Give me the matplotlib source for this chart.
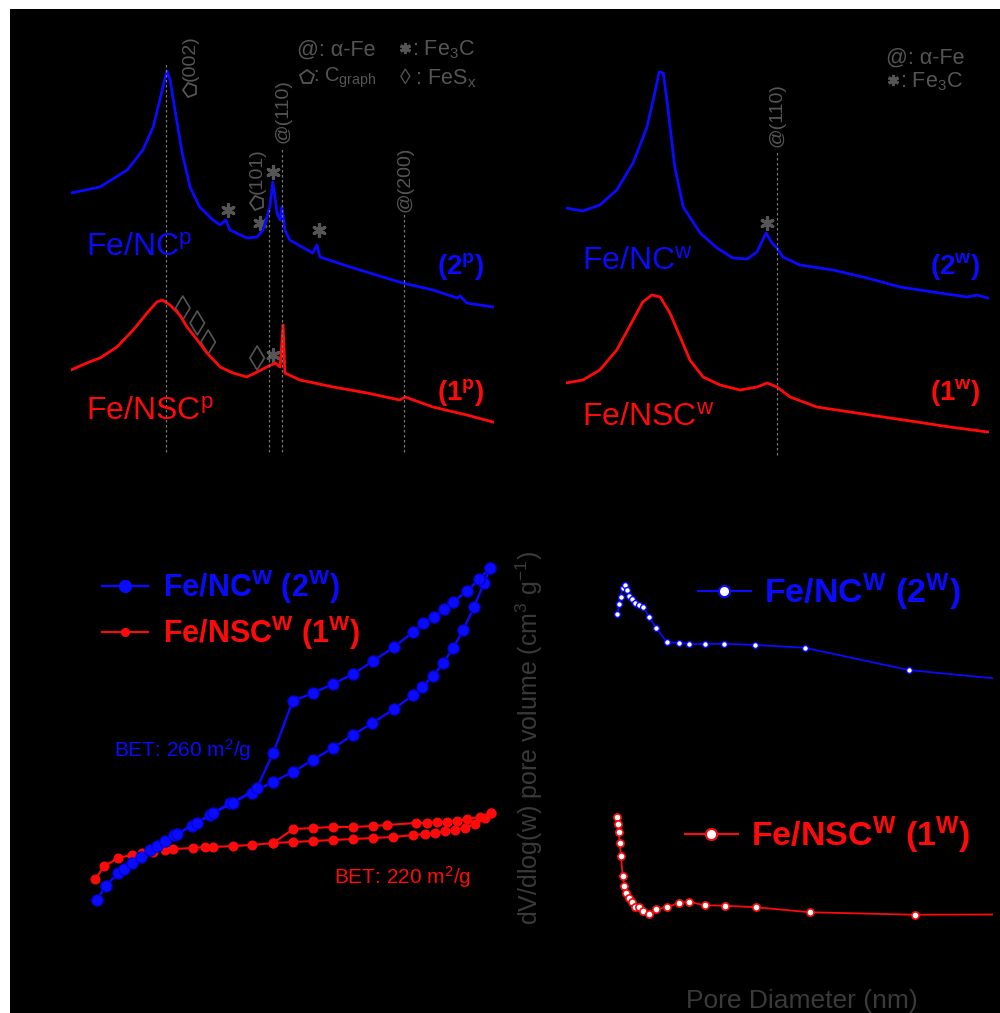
import numpy as np
import matplotlib
matplotlib.use("Agg")
import matplotlib.pyplot as plt
from matplotlib.markers import MarkerStyle
from matplotlib.transforms import Affine2D
from matplotlib.lines import Line2D
from matplotlib.patches import Rectangle

plt.rcParams['font.family'] = ['Liberation Sans', 'DejaVu Sans']
plt.rcParams['mathtext.fontset'] = 'custom'
plt.rcParams['mathtext.rm'] = 'Liberation Sans'
plt.rcParams['mathtext.it'] = 'Liberation Sans:italic'
plt.rcParams['mathtext.bf'] = 'Liberation Sans:bold'
plt.rcParams['mathtext.default'] = 'regular'

# ---------------- XRD data (2theta in deg, intensity a.u.) ----------------
xrd_nc_p_2t = [10.0, 14.8, 19.3, 21.9, 23.6, 24.7, 25.6, 25.9, 26.4, 27.2, 28.4, 29.7, 31.3, 33.5,
               34.7, 35.6, 36.3, 39.1, 40.8, 41.8, 42.9, 43.4, 44.1, 44.6, 44.9, 45.4, 46.2, 50.0,
               50.7, 51.2, 56.2, 61.6, 64.9, 69.9, 73.9, 74.4, 75.5, 79.8]
xrd_nc_p_I = [5540, 5660, 6000, 6400, 6860, 7400, 7860, 7980, 7800, 7200, 6340, 5660, 5260, 5000,
              4900, 5000, 4800, 4640, 4660, 4800, 5260, 5760, 5140, 5000, 5260, 4800, 4600, 4340,
              4500, 4260, 4060, 3860, 3740, 3600, 3440, 3480, 3340, 3260]
xrd_nsc_p_2t = [10.0, 12.6, 14.8, 17.6, 20.3, 22.6, 24.2, 25.1, 26.4, 28.0, 29.2, 30.9, 32.5, 34.7,
                36.8, 39.1, 40.8, 42.4, 43.8, 44.6, 45.1, 45.4, 47.9, 53.4, 59.0, 64.4, 65.3, 69.9,
                75.5, 79.8]
xrd_nsc_p_I = [2000, 2140, 2240, 2460, 2800, 3140, 3360, 3400, 3300, 3100, 2860, 2600, 2340, 2060,
               1940, 1860, 1960, 2060, 2140, 2060, 2900, 1940, 1800, 1660, 1540, 1400, 1460, 1260,
               1100, 960]
xrd_nc_w_2t = [10.0, 12.8, 15.6, 18.4, 21.1, 23.4, 24.7, 25.4, 26.1, 26.9, 28.0, 29.4, 32.2, 35.0,
               37.6, 40.0, 41.6, 43.1, 44.1, 44.9, 45.9, 48.7, 54.2, 59.8, 65.3, 70.7, 76.4, 78.0, 79.8]
xrd_nc_w_I = [5240, 5180, 5300, 5600, 6140, 6860, 7540, 7960, 7940, 7200, 6060, 5260, 4740, 4440,
              4240, 4220, 4360, 4740, 4540, 4440, 4260, 4100, 4000, 3840, 3660, 3560, 3460, 3500, 3440]
xrd_nsc_w_2t = [10.0, 12.8, 15.6, 18.4, 21.1, 22.7, 24.2, 25.6, 27.2, 28.9, 30.5, 32.7, 35.5, 38.8,
                41.6, 43.3, 44.9, 47.1, 51.5, 57.0, 62.5, 68.1, 73.5, 79.8]
xrd_nsc_w_I = [1740, 1800, 2000, 2400, 3000, 3360, 3500, 3460, 3140, 2660, 2200, 1860, 1700, 1600,
               1660, 1740, 1660, 1460, 1260, 1160, 1060, 960, 860, 760]

# reference reflections (2theta, top of guide line)
ref_p_2t = [25.7, 42.8, 44.9, 65.1]
ref_p_top = [8160, 5240, 6460, 5140]
ref_w_2t = [44.9]
ref_w_top = [6360]
# Fe3C marks
fe3c_p_2t = [36.0, 41.3, 43.4, 51.0, 43.4]
fe3c_p_I = [5200, 4940, 5960, 4800, 2300]
fe3c_w_2t = [43.3]
fe3c_w_I = [4940]
# FeSx marks
fesx_2t = [28.5, 30.9, 32.7, 40.8]
fesx_I = [3240, 2940, 2560, 2240]

# ---------------- N2 isotherms (P/P0, V cm3/g) ----------------
nc_ads_p = [0.007, 0.029, 0.061, 0.076, 0.094, 0.117, 0.140, 0.157, 0.178, 0.200, 0.246, 0.290,
            0.340, 0.394, 0.447, 0.497, 0.547, 0.597, 0.647, 0.696, 0.750, 0.798, 0.819, 0.848,
            0.873, 0.898, 0.923, 0.950, 0.975, 0.990]
nc_ads_v = [20, 34, 47, 51, 57, 63, 70, 74, 79, 85, 94, 105, 117, 127, 138, 148, 160, 172, 185,
            197, 211, 225, 233, 244, 257, 272, 290, 313, 337, 352]
nc_des_p = [0.990, 0.963, 0.933, 0.898, 0.875, 0.850, 0.823, 0.798, 0.750, 0.698, 0.648, 0.597,
            0.548, 0.497, 0.448, 0.407, 0.348, 0.298, 0.257, 0.207]
nc_des_v = [352, 341, 329, 318, 311, 303, 297, 288, 273, 259, 246, 236, 227, 219, 167, 132, 117,
            107, 97, 86]
nsc_ads_p = [0.003, 0.026, 0.061, 0.094, 0.119, 0.148, 0.178, 0.198, 0.248, 0.278, 0.298, 0.348,
             0.394, 0.448, 0.498, 0.548, 0.598, 0.648, 0.698, 0.748, 0.798, 0.828, 0.853, 0.878,
             0.903, 0.928, 0.953, 0.978, 0.992]
nsc_ads_v = [41, 54, 62, 65, 67, 68, 70, 71, 72, 73, 73, 74, 75, 77, 78, 79, 80, 81, 82, 83, 85,
             86, 87, 89, 90, 92, 96, 102, 107]
nsc_des_p = [0.992, 0.965, 0.933, 0.907, 0.882, 0.857, 0.832, 0.805, 0.732, 0.698, 0.648, 0.598,
             0.548, 0.498, 0.448]
nsc_des_v = [107, 103, 101, 99, 98, 98, 97, 97, 95, 94, 93, 93, 92, 91, 77]

# ---------------- Pore size distributions (nm, dV/dlog(w)) ----------------
psd_nc_d = [0.51, 0.64, 0.77, 0.93, 1.12, 1.28, 1.47, 1.71, 1.92, 2.27, 2.59, 3.04, 3.60, 4.45,
            5.44, 6.24, 7.49, 9.06, 11.5, 15.5, 23.8, 36.0]
psd_nc_v = [1.384, 1.424, 1.451, 1.489, 1.500, 1.480, 1.456, 1.443, 1.429, 1.420, 1.413, 1.373,
            1.329, 1.273, 1.267, 1.264, 1.264, 1.265, 1.260, 1.249, 1.160, 1.100]
psd_nsc_d = [0.51, 0.56, 0.61, 0.69, 0.80, 0.93, 1.07, 1.23, 1.41, 1.65, 1.89, 2.27, 2.59, 3.04,
             3.60, 4.51, 5.44, 6.24, 7.49, 9.14, 11.6, 15.9, 24.3, 36.0]
psd_nsc_v = [0.573, 0.544, 0.513, 0.467, 0.416, 0.336, 0.296, 0.269, 0.249, 0.232, 0.213, 0.211,
             0.197, 0.184, 0.203, 0.211, 0.229, 0.233, 0.219, 0.217, 0.211, 0.191, 0.181, 0.183]

BLUE = '#0a0aff'
RED = '#ff0a0a'
GREY = '#555555'

W, H = 1000, 1013
fig = plt.figure(figsize=(W / 100, H / 100), dpi=100, facecolor='white')
fig.add_artist(Rectangle((10 / W, 0), 1 - 10 / W, 1 - 9 / H, transform=fig.transFigure,
                         facecolor='black', edgecolor='none', zorder=-10))


def px_axes(x0, y0, x1, y1):
    ax = fig.add_axes([x0 / W, 1 - y1 / H, (x1 - x0) / W, (y1 - y0) / H])
    ax.set_facecolor('none')
    ax.axis('off')
    return ax


def fp(x, y):
    return (x / W, 1 - y / H)


# ---------------- top-left XRD ----------------
ax1 = px_axes(71, 30, 494, 460)
ax1.set_xlim(10, 80)
ax1.set_ylim(200, 8800)
ax1.plot(xrd_nc_p_2t, xrd_nc_p_I, color=BLUE, lw=2)
ax1.plot(xrd_nsc_p_2t, xrd_nsc_p_I, color=RED, lw=2)
ax1.vlines(ref_p_2t, 360, ref_p_top, colors='#777777', linestyles=(0, (2, 2)), lw=0.9)
ast = MarkerStyle((6, 2, 0))
ax1.scatter(fe3c_p_2t, fe3c_p_I, marker=ast, s=75, color=GREY, linewidths=2.3)
ax1.scatter(fesx_2t, fesx_I, marker='d', s=150, facecolors='none', edgecolors=GREY, linewidths=1.2)
pent_rot = MarkerStyle('p', fillstyle='none', transform=Affine2D().rotate_deg(90))
for x, yt, yp, lab in [(29.7, 7780, 7590, '(002)'), (40.8, 5510, 5330, '(101)')]:
    ax1.text(x, yt, lab, rotation=90, ha='center', va='bottom', color=GREY, fontsize=14)
    ax1.plot([x], [yp], marker=pent_rot, ms=10, mec=GREY, mew=1.3, ls='none')
ax1.text(45.1, 6540, '@(110)', rotation=90, ha='center', va='bottom', color=GREY, fontsize=14)
ax1.text(65.3, 5160, '@(200)', rotation=90, ha='center', va='bottom', color=GREY, fontsize=14)

# legend of phases (top-left)
fig.text(*fp(297, 50), '@: α-Fe', color=GREY, fontsize=15.5, va='center')
fig.add_artist(Line2D([405 / W], [1 - 48 / H], transform=fig.transFigure, marker=ast, ms=8,
                      mew=2.2, color=GREY, ls='none'))
fig.text(*fp(412, 50), ': Fe$_3$C', color=GREY, fontsize=15.5, va='center')
fig.add_artist(Line2D([307 / W], [1 - 77 / H], transform=fig.transFigure, marker='p', ms=10,
                      mfc='none', mec=GREY, mew=1.3, ls='none'))
fig.text(*fp(313, 78), ': C$_{graph}$', color=GREY, fontsize=14.5, va='center')
fig.text(*fp(399, 78), '◊ : FeS$_x$', color=GREY, fontsize=15.5, va='center')

fig.text(*fp(86, 248), 'Fe/NC$^p$', color=BLUE, fontsize=23, va='center')
fig.text(*fp(86, 412), 'Fe/NSC$^p$', color=RED, fontsize=23, va='center')
fig.text(*fp(484, 267), '(2$^p$)', color=BLUE, fontsize=20, fontweight='bold', va='center', ha='right')
fig.text(*fp(484, 392), '(1$^p$)', color=RED, fontsize=20, fontweight='bold', va='center', ha='right')

# ---------------- top-right XRD ----------------
ax2 = px_axes(566, 30, 989, 460)
ax2.set_xlim(10, 80)
ax2.set_ylim(200, 8800)
ax2.plot(xrd_nc_w_2t, xrd_nc_w_I, color=BLUE, lw=2)
ax2.plot(xrd_nsc_w_2t, xrd_nsc_w_I, color=RED, lw=2)
ax2.vlines(ref_w_2t, 300, ref_w_top, colors='#777777', linestyles=(0, (2, 2)), lw=0.9)
ax2.scatter(fe3c_w_2t, fe3c_w_I, marker=ast, s=75, color=GREY, linewidths=2.3)
ax2.text(44.9, 6460, '@(110)', rotation=90, ha='center', va='bottom', color=GREY, fontsize=14)

fig.text(*fp(886, 58), '@: α-Fe', color=GREY, fontsize=15.5, va='center')
fig.add_artist(Line2D([893 / W], [1 - 80 / H], transform=fig.transFigure, marker=ast, ms=8,
                      mew=2.2, color=GREY, ls='none'))
fig.text(*fp(900, 82), ': Fe$_3$C', color=GREY, fontsize=15.5, va='center')

fig.text(*fp(582, 262), 'Fe/NC$^w$', color=BLUE, fontsize=23, va='center')
fig.text(*fp(582, 418), 'Fe/NSC$^w$', color=RED, fontsize=23, va='center')
fig.text(*fp(981, 267), '(2$^w$)', color=BLUE, fontsize=20, fontweight='bold', va='center', ha='right')
fig.text(*fp(981, 392), '(1$^w$)', color=RED, fontsize=20, fontweight='bold', va='center', ha='right')

# ---------------- bottom-left isotherms ----------------
ax3 = px_axes(94, 540, 494, 900)
ax3.set_xlim(0, 1)
ax3.set_ylim(20, 380)
ax3.plot(nsc_ads_p, nsc_ads_v, color=RED, lw=1.5, marker='o', ms=6.2, mec=RED, zorder=2, clip_on=False)
ax3.plot(nsc_des_p, nsc_des_v, color=RED, lw=1.5, marker='o', ms=6.2, mec=RED, zorder=2, clip_on=False)
ax3.plot(nc_ads_p, nc_ads_v, color=BLUE, lw=1.7, marker='o', ms=8.2, mec='#0000c8', mew=0.8, zorder=3,
         clip_on=False)
ax3.plot(nc_des_p, nc_des_v, color=BLUE, lw=1.7, marker='o', ms=8.2, mec='#0000c8', mew=0.8, zorder=3,
         clip_on=False)
fig.text(*fp(114, 750), 'BET: 260 m$^2$/g', color=BLUE, fontsize=15, va='center')
fig.text(*fp(334, 877), 'BET: 220 m$^2$/g', color=RED, fontsize=15, va='center')

h_nc = Line2D([], [], color=BLUE, lw=1.7, marker='o', ms=8.5)
h_nsc = Line2D([], [], color=RED, lw=1.5, marker='o', ms=5.5)
leg_kw = dict(frameon=False, loc='center left', bbox_transform=fig.transFigure, borderpad=0,
              borderaxespad=0, handlelength=1.5, handletextpad=0.5,
              prop={'size': 22, 'weight': 'bold'})
lg1 = ax3.legend([h_nc], ['Fe/NC$^W$ (2$^W$)'], bbox_to_anchor=fp(102, 587), labelcolor=BLUE, **leg_kw)
ax3.add_artist(lg1)
ax3.legend([h_nsc], ['Fe/NSC$^W$ (1$^W$)'], bbox_to_anchor=fp(102, 633), labelcolor=RED, **leg_kw)

# ---------------- bottom-right pore size distribution ----------------
ax4 = px_axes(611, 540, 993, 960)
ax4.set_xlim(0, 30.56)
ax4.set_ylim(0, 1.68)
ax4.plot(psd_nc_d, psd_nc_v, color=BLUE, lw=1.3, marker='o', ms=4.2, mfc='white', mec=BLUE, mew=1.0)
ax4.plot(psd_nsc_d, psd_nsc_v, color=RED, lw=1.3, marker='o', ms=5.2, mfc='white', mec=RED, mew=1.2)
hp_nc = Line2D([], [], color=BLUE, lw=1.5, marker='o', ms=8, mfc='white', mec=BLUE, mew=1.5)
hp_nsc = Line2D([], [], color=RED, lw=1.5, marker='o', ms=8, mfc='white', mec=RED, mew=1.5)
leg_kw2 = dict(frameon=False, loc='center left', bbox_transform=fig.transFigure, borderpad=0,
               borderaxespad=0, handlelength=1.55, handletextpad=0.4,
               prop={'size': 24.5, 'weight': 'bold'})
lg2 = ax4.legend([hp_nc], ['Fe/NC$^W$ (2$^W$)'], bbox_to_anchor=fp(698, 592), labelcolor=BLUE, **leg_kw2)
ax4.add_artist(lg2)
ax4.legend([hp_nsc], ['Fe/NSC$^W$ (1$^W$)'], bbox_to_anchor=fp(685, 835), labelcolor=RED, **leg_kw2)

fig.text(*fp(529, 738), 'dV/dlog(w) pore volume (cm$^3$ g$^{-1}$)', rotation=90, color='#3a3a3a',
         fontsize=18, ha='center', va='center')
fig.text(*fp(802, 1008), 'Pore Diameter (nm)', color='#3a3a3a', fontsize=19, ha='center', va='baseline')

fig.savefig('out.png', dpi=100, facecolor='white')
